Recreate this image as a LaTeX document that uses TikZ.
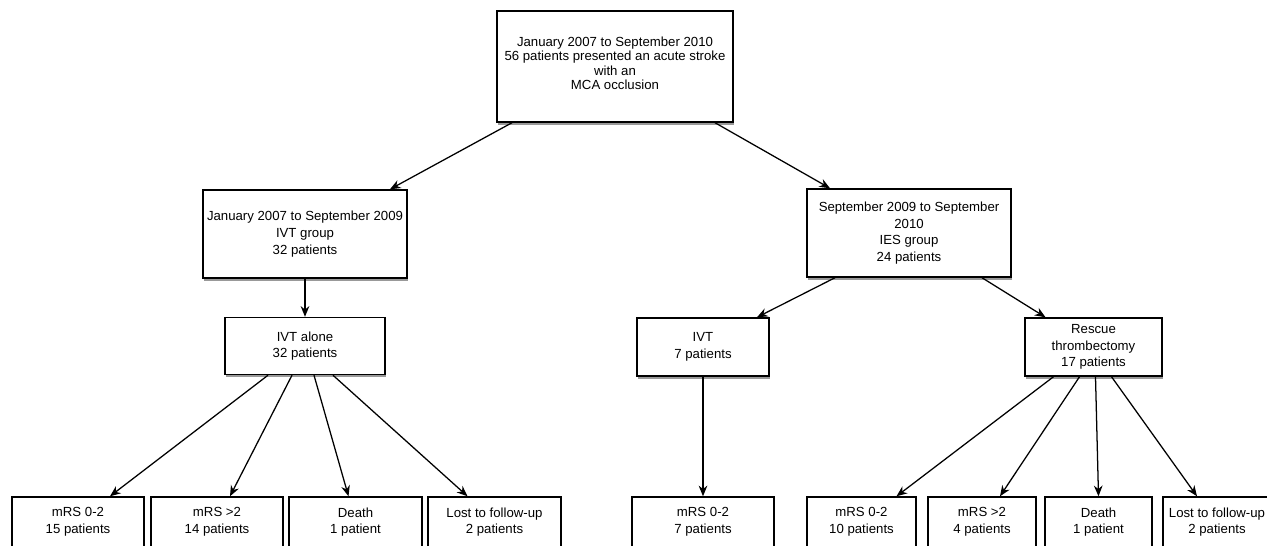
\documentclass[tikz,border=0pt]{standalone}
\usepackage{fontspec}
\setmainfont{Liberation Sans}
\usetikzlibrary{arrows.meta,calc}

\begin{document}
\begin{tikzpicture}[x=0.75pt,y=0.75pt,yscale=-1,xscale=1,
  box/.style={draw, line width=1.1pt, fill=white, align=center, inner sep=0.75pt,
    font=\fontsize{9.9}{12.6}\selectfont,
    preaction={fill=black!40, transform canvas={xshift=0.8pt, yshift=-2pt}}},
  boxsize/.style 2 args={minimum width=#1*0.75pt, minimum height=#2*0.75pt},
  flow/.style={-{Stealth[length=8pt,width=6.5pt]}, line width=0.95pt}]
\useasboundingbox (0,0) rectangle (1267,546);
\clip (0,0) rectangle (1267,546);

% Text Node
\node [box, boxsize={236}{111}, font=\fontsize{9.9}{10.6}\selectfont, text depth=5pt] (top) at (615,66.5)
  {January 2007 to September 2010\\56 patients presented an acute stroke\\with an\\MCA occlusion};
% Text Node
\node [box, boxsize={204}{88}] (grpA) at (305,234) {January 2007 to September 2009\\IVT group\\32 patients};
% Text Node
\node [box, boxsize={204}{88}] (grpB) at (909,233) {September 2009 to September\\2010\\IES group\\24 patients};
% Text Node
\node [box, boxsize={160}{57}] (ivtA) at (305,346) {IVT alone\\32 patients};
% Text Node
\node [box, boxsize={132}{58}] (ivtB) at (703,347) {IVT\\7 patients};
% Text Node
\node [box, boxsize={137}{58}] (resc) at (1093.5,347) {Rescue\\thrombectomy\\17 patients};

% Text Node
\node [box, boxsize={132}{50}] (outA1) at (78,522) {mRS 0-2\\15 patients};
\node [box, boxsize={132}{50}] (outA2) at (217,522) {mRS >2\\14 patients};
\node [box, boxsize={133}{50}] (outA3) at (355.5,522) {Death\\1 patient};
\node [box, boxsize={133}{50}] (outA4) at (494.5,522) {Lost to follow-up\\2 patients};
% Text Node
\node [box, boxsize={142}{50}] (outB0) at (703,522) {mRS 0-2\\7 patients};
% Text Node
\node [box, boxsize={109}{50}] (outB1) at (861.5,522) {mRS 0-2\\10 patients};
\node [box, boxsize={108}{50}] (outB2) at (982,522) {mRS >2\\4 patients};
\node [box, boxsize={107}{50}] (outB3) at (1098.5,522) {Death\\1 patient};
\node [box, boxsize={108}{50}] (outB4) at (1217,522) {Lost to follow-up\\2 patients};

%Straight Lines
\draw [flow] ($(top.south)+(-103,0)$) -- ($(grpA.north)+(85,0)$);
\draw [flow] ($(top.south)+(100,0)$) -- ($(grpB.north)+(-79,0)$);
\draw [flow] (grpA.south) -- (ivtA.north);
\draw [flow] ($(grpB.south)+(-74,0)$) -- ($(ivtB.north)+(54,0)$);
\draw [flow] ($(grpB.south)+(73,0)$) -- ($(resc.north)+(-48,0)$);
\draw [flow] (ivtB.south) -- (outB0.north);
%Straight Lines
\draw [flow] ($(ivtA.south)+(-37,0)$) -- ($(outA1.north)+(32,0)$);
\draw [flow] ($(ivtA.south)+(-13,0)$) -- ($(outA2.north)+(13,0)$);
\draw [flow] ($(ivtA.south)+(9,0)$) -- ($(outA3.north)+(-7,0)$);
\draw [flow] ($(ivtA.south)+(28,0)$) -- ($(outA4.north)+(-27,0)$);
%Straight Lines
\draw [flow] ($(resc.south)+(-40,0)$) -- ($(outB1.north)+(35,0)$);
\draw [flow] ($(resc.south)+(-14,0)$) -- ($(outB2.north)+(18,0)$);
\draw [flow] ($(resc.south)+(2,0)$) -- ($(outB3.north)+(0,0)$);
\draw [flow] ($(resc.south)+(18,0)$) -- ($(outB4.north)+(-20,0)$);

\end{tikzpicture}
\end{document}
